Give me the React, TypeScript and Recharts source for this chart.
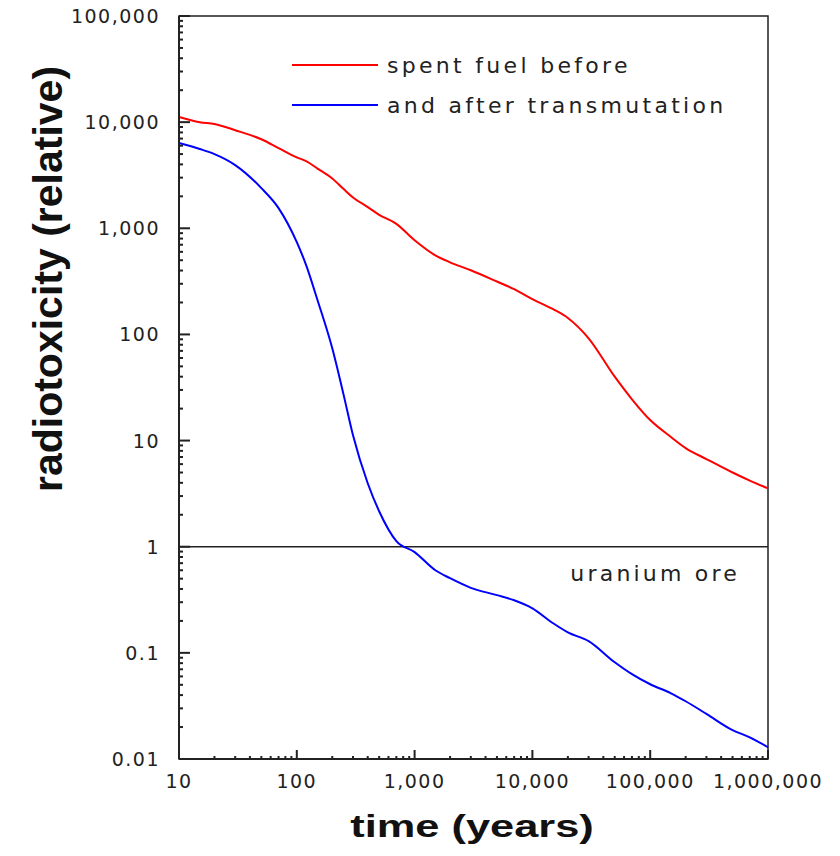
import React from 'react';
import { LineChart, Line, XAxis, YAxis, ReferenceLine, ReferenceArea } from 'recharts';

// time after discharge, years (log axis)
const years = [
  10, 15, 20, 30, 50, 70, 100, 120, 150, 200, 250, 300, 400, 500, 700, 1000, 1500, 2000, 3000, 5000, 7000,
  10000, 15000, 20000, 30000, 50000, 70000, 100000, 150000, 200000, 300000, 500000, 700000, 1000000,
];

// spent fuel before transmutation (red)
const spentFuel = [
  11200, 10000, 9600, 8400, 6900, 5700, 4650, 4300, 3650, 2950, 2340, 1950, 1585, 1340, 1100, 770, 555, 478, 402, 315, 267,
  215, 173, 143, 92, 40, 24.5, 15.6, 10.8, 8.5, 6.7, 5.0, 4.2, 3.55,
];

// and after transmutation (blue)
const transmuted = [
  6350, 5580, 5000, 3940, 2390, 1550, 740, 450, 210, 74, 26.8, 11.2, 3.96, 2.16, 1.13, 0.89, 0.6, 0.505, 0.41, 0.35, 0.313,
  0.263, 0.19, 0.156, 0.129, 0.0815, 0.063, 0.0506, 0.0416, 0.035, 0.0266, 0.0187, 0.016, 0.0129,
];

const xMajorTicks = [10, 100, 1000, 10000, 100000, 1000000];
const xTickLabels = ['10', '100', '1,000', '10,000', '100,000', '1,000,000'];
const yMajorTicks = [0.01, 0.1, 1, 10, 100, 1000, 10000, 100000];
const yTickLabels = ['0.01', '0.1', '1', '10', '100', '1,000', '10,000', '100,000'];

const seriesNames = ['spent fuel before', 'and after transmutation'];
const seriesColors = ['#ff0000', '#0000ff'];

// 2..9 minor ticks inside every decade
const minorOf = (majors: number[]) =>
  majors.slice(0, -1).flatMap((m) => [2, 3, 4, 5, 6, 7, 8, 9].map((k) => +(m * k).toPrecision(6)));

const xTicks = [...xMajorTicks, ...minorOf(xMajorTicks)].sort((a, b) => a - b);
const yTicks = [...yMajorTicks, ...minorOf(yMajorTicks)].sort((a, b) => a - b);

const data = years.map((t, i) => ({ t, before: spentFuel[i], after: transmuted[i] }));

const AXIS = '#222';
const TICK_FONT = { fontFamily: '"DejaVu Sans", Verdana, sans-serif', fontSize: 19, letterSpacing: 1.5, fill: '#222' };

// ticks point into the plot; major ones are longer and carry a label
const XTick = (props: any) => {
  const { x, y, payload } = props;
  const i = xMajorTicks.indexOf(payload.value);
  const len = i < 0 ? 3 : 9;
  return (
    <g>
      <rect x={Number(x) - 1} y={Number(y) - len} width={2} height={len} fill={AXIS} />
      {i >= 0 && (
        <text x={x} y={Number(y) + 29} textAnchor="middle" {...TICK_FONT}>
          {xTickLabels[i]}
        </text>
      )}
    </g>
  );
};

const YTick = (props: any) => {
  const { x, y, payload } = props;
  const i = yMajorTicks.indexOf(payload.value);
  const len = i < 0 ? 4 : 11;
  return (
    <g>
      <rect x={Number(x)} y={Number(y) - 1} width={len} height={2} fill={AXIS} />
      {i >= 0 && (
        <text x={Number(x) - 19} y={Number(y) + 7} textAnchor="end" {...TICK_FONT}>
          {yTickLabels[i]}
        </text>
      )}
    </g>
  );
};

const XTitle = () => (
  <text
    transform="translate(472,837) scale(1.4,1)"
    textAnchor="middle"
    fontFamily='"Liberation Sans", Arial, sans-serif'
    fontWeight="bold"
    fontSize={31}
    fill="#111"
  >
    time (years)
  </text>
);

const YTitle = () => (
  <text
    transform="translate(62,279) rotate(-90)"
    textAnchor="middle"
    fontFamily='"Liberation Sans", Arial, sans-serif'
    fontWeight="bold"
    fontSize={41}
    fill="#111"
  >
    radiotoxicity (relative)
  </text>
);

const oreLabel = (props: any) => {
  const { viewBox } = props;
  return (
    <text
      x={viewBox.x + viewBox.width - 28}
      y={viewBox.y + 34}
      textAnchor="end"
      fontFamily='"DejaVu Sans", Verdana, sans-serif'
      fontSize={22}
      letterSpacing={3.2}
      fill="#222"
    >
      uranium ore
    </text>
  );
};

export default function App() {
  return (
    <div style={{ position: 'absolute', left: 0, top: 0, width: 840, height: 856, background: '#fff' }}>
      <LineChart width={840} height={856} data={data} margin={{ top: 16, right: 72, bottom: 0, left: 0 }}>
        <XAxis
          dataKey="t"
          type="number"
          scale="log"
          domain={[10, 1000000]}
          ticks={xTicks}
          interval={0}
          tick={XTick}
          tickLine={false}
          tickSize={0}
          tickMargin={0}
          axisLine={{ stroke: AXIS, strokeWidth: 2 }}
          height={97}
          label={<XTitle />}
        />
        <YAxis
          type="number"
          scale="log"
          domain={[0.01, 100000]}
          ticks={yTicks}
          interval={0}
          tick={YTick}
          tickLine={false}
          tickSize={0}
          tickMargin={0}
          axisLine={{ stroke: AXIS, strokeWidth: 2 }}
          width={179}
          label={<YTitle />}
        />
        <ReferenceArea x1={10} x2={1000000} y1={0.01} y2={100000} fill="none" stroke={AXIS} strokeWidth={1.5} />
        <ReferenceLine y={1} stroke={AXIS} strokeWidth={1.5} label={oreLabel} />
        <Line dataKey="before" name={seriesNames[0]} type="monotone" stroke={seriesColors[0]} strokeWidth={2} dot={false} isAnimationActive={false} />
        <Line dataKey="after" name={seriesNames[1]} type="monotone" stroke={seriesColors[1]} strokeWidth={2} dot={false} isAnimationActive={false} />
      </LineChart>
      {/* legend box, top inside the plot */}
      <div
        style={{
          position: 'absolute',
          left: 292,
          top: 45,
          fontFamily: '"DejaVu Sans", Verdana, sans-serif',
          fontSize: 22,
          letterSpacing: 3.3,
          color: '#222',
          whiteSpace: 'nowrap',
        }}
      >
        {seriesNames.map((name, i) => (
          <div key={name} style={{ display: 'flex', alignItems: 'center', height: 40 }}>
            <span style={{ display: 'inline-block', width: 86, height: 2, background: seriesColors[i], marginRight: 9 }} />
            <span>{name}</span>
          </div>
        ))}
      </div>
    </div>
  );
}
